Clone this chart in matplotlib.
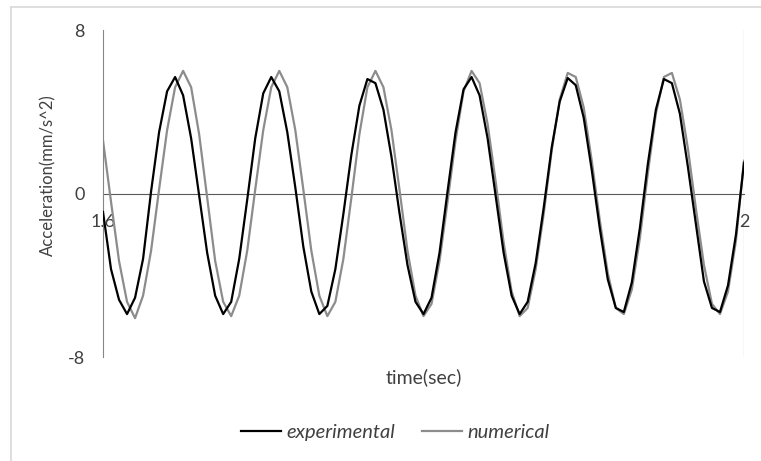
import matplotlib
import numpy as np

matplotlib.use("Agg")

from matplotlib import pyplot as plt
from matplotlib.lines import Line2D

# sampled every 0.005 s between 1.6 and 2.0 s
time_sec = np.linspace(1.6, 2.0, 81)

experimental = [
    -0.9, -3.7, -5.2, -5.9, -5.1, -3.2, 0.1, 3.0, 5.0, 5.7,
    4.8, 2.7, -0.1, -2.9, -5.0, -5.9, -5.3, -3.2, -0.3, 2.7,
    4.9, 5.7, 5.0, 3.0, 0.3, -2.6, -4.8, -5.9, -5.5, -3.7,
    -1.0, 1.9, 4.3, 5.6, 5.4, 4.1, 1.8, -0.95, -3.5, -5.3,
    -5.9, -5.1, -2.9, 0.1, 3.0, 5.1, 5.7, 4.8, 2.7, -0.1,
    -2.9, -5.0, -5.9, -5.3, -3.4, -0.7, 2.25, 4.5, 5.65, 5.3,
    3.7, 1.15, -1.7, -4.2, -5.6, -5.8, -4.35, -1.7, 1.45, 4.1,
    5.6, 5.4, 3.9, 1.3, -1.5, -4.3, -5.6, -5.8, -4.5, -2.0,
    1.5,
]

numerical = [
    2.6, -0.4, -3.3, -5.3, -6.1, -5.0, -2.8, 0.2, 3.1, 5.2,
    6.0, 5.2, 2.9, -0.2, -3.3, -5.3, -6.0, -5.0, -2.8, 0.2,
    3.1, 5.2, 6.0, 5.2, 3.1, 0.2, -2.8, -5.0, -6.0, -5.3,
    -3.2, -0.2, 2.9, 5.2, 6.0, 5.2, 3.1, 0.2, -2.8, -5.0,
    -6.0, -5.4, -3.3, -0.4, 2.6, 5.0, 6.0, 5.4, 3.4, 0.6,
    -2.4, -4.8, -6.0, -5.6, -3.7, -1.0, 2.1, 4.6, 5.9, 5.7,
    4.2, 1.6, -1.3, -3.9, -5.6, -5.9, -4.7, -2.2, 1.0, 3.9,
    5.7, 5.9, 4.6, 2.2, -0.75, -3.5, -5.4, -5.9, -4.8, -2.3,
    1.6,
]

x_ticks = [1.6, 2.0]
x_tick_labels = ["1.6", "2"]
y_ticks = [-8, 0, 8]

TEXT_COLOR = "#404040"
AXIS_COLOR = "#868686"
GRID_COLOR = "#d9d9d9"

plt.rcParams["font.family"] = ["Lato", "DejaVu Sans"]
plt.rcParams["axes.unicode_minus"] = False

W, H = 761, 461
fig = plt.figure(figsize=(W / 100, H / 100), dpi=100)
ax = fig.add_axes([103 / W, 1 - 357 / H, (744 - 103) / W, (357 - 30) / H])

ax.plot(time_sec, experimental, color="#000000", linewidth=1.6, zorder=3)
ax.plot(time_sec, numerical, color="#8c8c8c", linewidth=1.6, zorder=2)

ax.set_xlim(1.6, 2.0)
ax.set_ylim(-8, 8)

for side in ("top", "right"):
    ax.spines[side].set_visible(False)
ax.spines["left"].set_color(AXIS_COLOR)
ax.spines["bottom"].set_position(("data", 0))
ax.spines["bottom"].set_color("#595959")
ax.spines["bottom"].set_zorder(1)

ax.set_xticks(x_ticks, x_tick_labels)
ax.set_yticks(y_ticks)
ax.tick_params(axis="x", length=0, pad=15, labelsize=13, labelcolor=TEXT_COLOR)
ax.tick_params(axis="y", length=0, pad=13, labelsize=13, labelcolor=TEXT_COLOR)
ax.axvline(2.0, color=GRID_COLOR, linewidth=1.0, zorder=0)

fig.text(48 / W, 1 - 175 / H, "Acceleration(mm/s^2)", rotation=90, ha="center", va="center",
         fontsize=12, color=TEXT_COLOR)
fig.text(424 / W, 1 - 377 / H, "time(sec)", ha="center", va="center", fontsize=14, color=TEXT_COLOR)

handles = [
    Line2D([], [], color="#000000", linewidth=1.6),
    Line2D([], [], color="#8c8c8c", linewidth=1.6),
]
fig.legend(handles, ["experimental", "numerical"], loc="center", bbox_to_anchor=(395 / W, 1 - 432 / H),
           ncol=2, frameon=False, handlelength=2.0, handletextpad=0.25, columnspacing=1.35,
           prop={"style": "italic", "size": 14.5}, labelcolor=TEXT_COLOR)

# light chart-area border (left and top edges visible)
fig.add_artist(Line2D([11 / W, 11 / W], [0, 1 - 7 / H], color=GRID_COLOR, linewidth=1.2))
fig.add_artist(Line2D([11 / W, 1], [1 - 7 / H, 1 - 7 / H], color=GRID_COLOR, linewidth=1.2))

fig.savefig("out.png", dpi=100)
plt.close(fig)
